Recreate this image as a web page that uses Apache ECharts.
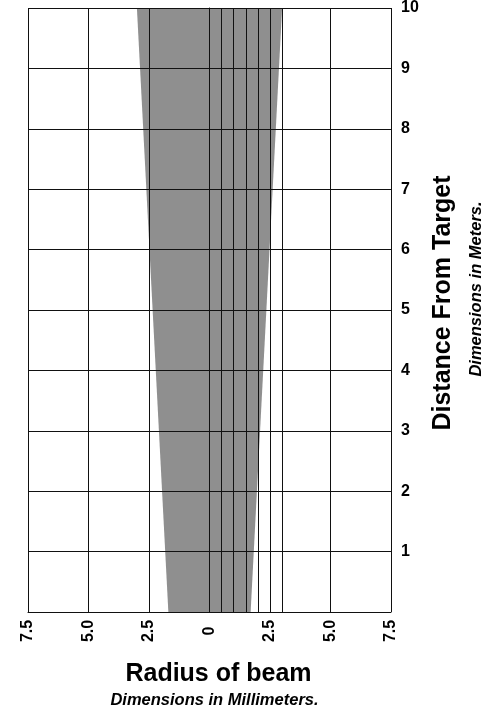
<!DOCTYPE html>
<html>
<head>
<meta charset="utf-8">
<script src="https://cdn.jsdelivr.net/npm/echarts@6/dist/echarts.min.js"></script>
<style>html,body{margin:0;padding:0;background:#fff}#c{width:500px;height:722px}</style>
</head>
<body>
<div id="c"></div>
<script>
const xTicks = [-7.5, -5, -2.5, 0, 2.5, 5, 7.5];
const xTickLabels = ['7.5', '5.0', '2.5', '0', '2.5', '5.0', '7.5'];
const yTicks = [0, 1, 2, 3, 4, 5, 6, 7, 8, 9, 10];
const yTickLabels = ['', '1', '2', '3', '4', '5', '6', '7', '8', '9', '10'];
const beamDistance = [0, 10];
const beamRadius = [1.7, 3.0];
const extraLines = [0.5, 1.0, 1.5, 2.0, 3.0];

const FONT = '"Liberation Sans", Arial, Helvetica, sans-serif';
const LINE = '#111';

const chart = echarts.init(document.getElementById('c'), null, {renderer: 'canvas'});

const beamPoly = [];
for (let i = 0; i < beamDistance.length; i++) beamPoly.push([-beamRadius[i], beamDistance[i]]);
for (let i = beamDistance.length - 1; i >= 0; i--) beamPoly.push([beamRadius[i], beamDistance[i]]);

chart.setOption({
  animation: false,
  grid: {left: 28, right: 109, top: 7, bottom: 110, show: false},
  xAxis: {
    type: 'value', min: -7.5, max: 7.5, interval: 2.5,
    axisLine: {show: true, onZero: false, lineStyle: {color: LINE, width: 1}},
    axisTick: {show: false},
    splitLine: {show: true, lineStyle: {color: LINE, width: 1}},
    axisLabel: {
      rotate: 90, align: 'center', margin: 19,
      color: '#000', fontWeight: 'bold', fontSize: 16, fontFamily: FONT,
      formatter: function (v) {
        const i = xTicks.findIndex(t => Math.abs(t - v) < 1e-6);
        return i >= 0 ? xTickLabels[i] : '';
      }
    }
  },
  yAxis: {
    type: 'value', position: 'right', min: 0, max: 10, interval: 1,
    axisLine: {show: true, lineStyle: {color: LINE, width: 1}},
    axisTick: {show: false},
    splitLine: {show: true, lineStyle: {color: LINE, width: 1}},
    axisLabel: {
      margin: 10, color: '#000', fontWeight: 'bold', fontSize: 16, fontFamily: FONT,
      formatter: function (v) {
        const i = yTicks.findIndex(t => Math.abs(t - v) < 1e-6);
        return i >= 0 ? yTickLabels[i] : '';
      }
    }
  },
  series: [
    {
      type: 'custom', z: -1, silent: true,
      data: beamPoly,
      renderItem: function (params, api) {
        if (params.dataIndex !== 0) return null;
        const pts = beamPoly.map(p => api.coord(p));
        return {type: 'polygon', shape: {points: pts}, style: {fill: '#8f8f8f'}};
      }
    },
    {
      type: 'line', data: [], silent: true,
      markLine: {
        silent: true, symbol: 'none', label: {show: false},
        lineStyle: {color: LINE, width: 1, type: 'solid'},
        data: extraLines.map(v => ({xAxis: v}))
      }
    }
  ],
  graphic: [
    {type: 'text', x: 218.5, y: 674, style: {text: 'Radius of beam', font: 'bold 25px ' + FONT, fill: '#000', textAlign: 'center', textVerticalAlign: 'middle'}},
    {type: 'text', x: 214.5, y: 700, style: {text: 'Dimensions in Millimeters.', font: 'italic bold 16.5px ' + FONT, fill: '#000', textAlign: 'center', textVerticalAlign: 'middle'}},
    {type: 'text', x: 443, y: 303, rotation: Math.PI / 2, style: {text: 'Distance From Target', font: 'bold 25px ' + FONT, fill: '#000', textAlign: 'center', textVerticalAlign: 'middle'}},
    {type: 'text', x: 476, y: 289, rotation: Math.PI / 2, style: {text: 'Dimensions in Meters.', font: 'italic bold 16.5px ' + FONT, fill: '#000', textAlign: 'center', textVerticalAlign: 'middle'}}
  ]
});
</script>
</body>
</html>
